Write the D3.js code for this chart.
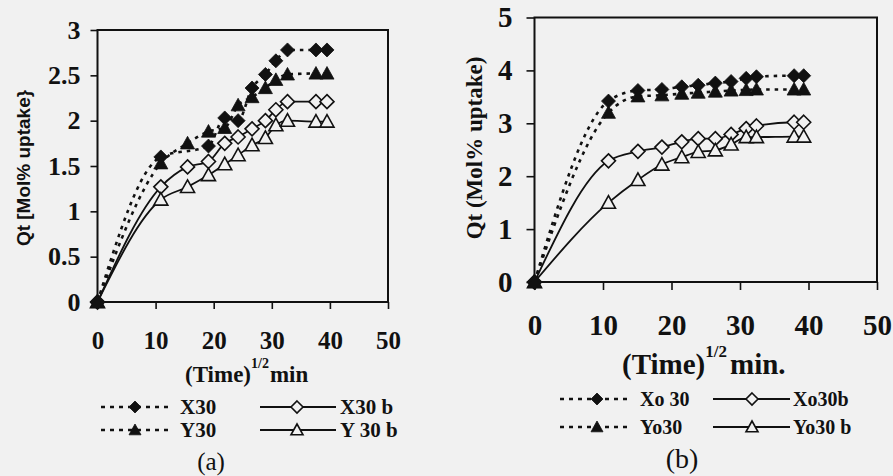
<!DOCTYPE html>
<html><head><meta charset="utf-8">
<script src="https://cdn.jsdelivr.net/npm/d3@7"></script>
<style>
html,body{margin:0;padding:0;background:#f1f1f1;}
svg{display:block;}
</style></head>
<body>
<svg id="c" width="893" height="476"></svg>
<script>
// ---------- Panel (a) data ----------
const timeA = [0, 10.9, 15.5, 19.1, 21.9, 24.2, 26.6, 28.9, 30.7, 32.7, 37.6, 39.5];
const X30   = [0, 1.60, null, 1.72, 2.03, 2.00, 2.36, 2.51, 2.66, 2.78, 2.78, 2.78];
const Y30   = [0, 1.53, 1.75, 1.88, 1.92, 2.17, 2.26, 2.36, 2.45, 2.51, 2.52, 2.52];
const X30b  = [0, 1.27, 1.49, 1.55, 1.75, 1.82, 1.91, 2.00, 2.12, 2.21, 2.21, 2.21];
const Y30b  = [0, 1.13, 1.27, 1.40, 1.52, 1.62, 1.73, 1.81, 1.95, 2.00, 1.99, 1.99];
const xTicksA = [0, 10, 20, 30, 40, 50];
const yTicksA = [0, 0.5, 1, 1.5, 2, 2.5, 3];
const yTickLabelsA = ["0", "0.5", "1", "1.5", "2", "2.5", "3"];

// ---------- Panel (b) data ----------
const timeB = [0, 10.8, 15.1, 18.6, 21.5, 23.9, 26.4, 28.7, 30.9, 32.4, 37.9, 39.3];
const Xo30  = [0, 3.42, 3.62, 3.64, 3.69, 3.72, 3.76, 3.79, 3.85, 3.88, 3.90, 3.90];
const Yo30  = [0, 3.20, 3.51, 3.53, 3.56, 3.58, 3.60, 3.62, 3.63, 3.64, 3.64, 3.64];
const Xo30b = [0, 2.29, 2.47, 2.55, 2.65, 2.71, 2.71, 2.79, 2.90, 2.95, 3.02, 3.02];
const Yo30b = [0, 1.50, 1.93, 2.22, 2.36, 2.46, 2.49, 2.60, 2.74, 2.74, 2.75, 2.75];
const xTicksB = [0, 10, 20, 30, 40, 50];
const yTicksB = [0, 1, 2, 3, 4, 5];

const svg = d3.select("#c");
const BG = "#f1f1f1";
const SERIF = "'Liberation Serif','Times New Roman',serif";
const SANS = "'Liberation Sans',Arial,sans-serif";

const diamondPath = r => `M0,${-r}L${r},0L0,${r}L${-r},0Z`;
const trianglePath = r => `M0,${-r}L${r},${r*0.8}L${-r},${r*0.8}Z`;

function zip(t, v) { return t.map((d, i) => ({t: d, v: v[i]})).filter(d => d.v !== null); }

function panel(cfg) {
  const g = svg.append("g");
  const x = d3.scaleLinear().domain([0, 50]).range(cfg.xr);
  const y = d3.scaleLinear().domain(cfg.yd).range(cfg.yr);

  const xa = g.append("g").attr("transform", `translate(0,${cfg.yr[0]})`)
    .call(d3.axisBottom(x).tickValues(cfg.xTicks).tickSize(cfg.tick).tickSizeOuter(0).tickPadding(cfg.xPad));
  const ya = g.append("g").attr("transform", `translate(${cfg.xr[0]},0)`)
    .call(d3.axisLeft(y).tickValues(cfg.yTicks).tickSize(cfg.tick).tickSizeOuter(0).tickPadding(cfg.yPad)
      .tickFormat((d, i) => cfg.yLabels ? cfg.yLabels[i] : d));
  [xa, ya].forEach(a => {
    a.attr("font-family", null).attr("font-size", null);
    a.select(".domain").remove();
    a.selectAll("line").attr("stroke", "#111").attr("stroke-width", 1.6);
    a.selectAll("text").attr("fill", "#111").style("font-family", SERIF).style("font-weight", "bold");
  });
  xa.selectAll("text").style("font-size", cfg.xFont + "px");
  ya.selectAll("text").style("font-size", cfg.yFont + "px");

  g.append("rect").attr("x", cfg.xr[0]).attr("y", cfg.yr[1])
    .attr("width", cfg.xr[1] - cfg.xr[0]).attr("height", cfg.yr[0] - cfg.yr[1])
    .attr("fill", "none").attr("stroke", "#111").attr("stroke-width", 2);

  const line = d3.line().x(d => x(d.t)).y(d => y(d.v)).curve(d3.curveMonotoneX);

  cfg.series.forEach(s => {
    const data = zip(s.t, s.v);
    g.append("path").datum(data).attr("d", line).attr("fill", "none")
      .attr("stroke", "#111").attr("stroke-width", s.dashed ? 2.6 : 1.8)
      .attr("stroke-dasharray", s.dashed ? "3.5,5" : null);
  });
  cfg.series.forEach(s => {
    const data = zip(s.t, s.v);
    g.selectAll(null).data(data).join("path")
      .attr("transform", d => `translate(${x(d.t)},${y(d.v)})`)
      .attr("d", s.shape === "d" ? diamondPath(cfg.ms) : trianglePath(cfg.ms))
      .attr("fill", s.open ? BG : "#111")
      .attr("stroke", "#111").attr("stroke-width", s.open ? 1.6 : 0.8);
  });

  g.append("text").attr("transform", `translate(${cfg.yTitle.x},${cfg.yTitle.y}) rotate(-90)`)
    .attr("text-anchor", "middle").attr("fill", "#111")
    .style("font-family", cfg.yTitle.font).style("font-weight", "bold").style("font-size", cfg.yTitle.size + "px")
    .text(cfg.yTitle.text);

  const xt = cfg.xTitle;
  const t = g.append("text").attr("x", xt.x).attr("y", xt.y).attr("fill", "#111")
    .style("font-family", SERIF).style("font-weight", "bold").style("font-size", xt.size + "px");
  t.append("tspan").text("(Time)");
  t.append("tspan").attr("dy", -xt.supUp).style("font-size", xt.supSize + "px").text("1/2");
  t.append("tspan").attr("dy", xt.supUp).attr("dx", xt.gap).text(xt.unit);

  cfg.legend.forEach(l => {
    const s = l.s;
    g.append("line").attr("x1", l.x1).attr("x2", l.x2).attr("y1", l.y).attr("y2", l.y)
      .attr("stroke", "#111").attr("stroke-width", s.dashed ? 2.6 : 1.8)
      .attr("stroke-dasharray", s.dashed ? "4,5" : null);
    g.append("path").attr("transform", `translate(${l.mx},${l.y})`)
      .attr("d", s.shape === "d" ? diamondPath(cfg.lms) : trianglePath(cfg.lms))
      .attr("fill", s.open ? BG : "#111").attr("stroke", "#111").attr("stroke-width", s.open ? 1.6 : 0.8);
    g.append("text").attr("x", l.tx).attr("y", l.y + cfg.legFont * 0.33).attr("fill", "#111")
      .style("font-family", SERIF).style("font-weight", "bold").style("font-size", cfg.legFont + "px")
      .text(s.name);
  });

  g.append("text").attr("x", cfg.tag.x).attr("y", cfg.tag.y).attr("text-anchor", "middle")
    .attr("fill", "#111").style("font-family", SERIF).style("font-size", cfg.tag.size + "px").text(cfg.tag.text);
}

const sA = {
  X30:  {name: "X30",    t: timeA, v: X30,  shape: "d", open: false, dashed: true},
  Y30:  {name: "Y30",    t: timeA, v: Y30,  shape: "t", open: false, dashed: true},
  X30b: {name: "X30 b",  t: timeA, v: X30b, shape: "d", open: true,  dashed: false},
  Y30b: {name: "Y 30 b", t: timeA, v: Y30b, shape: "t", open: true,  dashed: false}
};
panel({
  xr: [97.5, 388], yr: [302, 30], yd: [0, 3],
  xTicks: xTicksA, yTicks: yTicksA, yLabels: yTickLabelsA,
  tick: 7, xPad: 22, yPad: 10, xFont: 25, yFont: 26, ms: 7, lms: 6,
  series: [sA.X30b, sA.Y30b, sA.X30, sA.Y30],
  yTitle: {x: 30, y: 168, text: "Qt [Mol% uptake}", font: SANS, size: 19},
  xTitle: {x: 185, y: 382, size: 23, supSize: 14, supUp: 14, gap: 1, unit: "min"},
  legend: [
    {s: sA.X30,  x1: 101, x2: 170, mx: 135, y: 407, tx: 180},
    {s: sA.Y30,  x1: 101, x2: 170, mx: 135, y: 430, tx: 180},
    {s: sA.X30b, x1: 260, x2: 336, mx: 297, y: 407, tx: 340},
    {s: sA.Y30b, x1: 260, x2: 336, mx: 297, y: 430, tx: 340}
  ],
  legFont: 21,
  tag: {x: 211, y: 470, size: 25, text: "(a)"}
});

const sB = {
  Xo30:  {name: "Xo 30",  t: timeB, v: Xo30,  shape: "d", open: false, dashed: true},
  Yo30:  {name: "Yo30",   t: timeB, v: Yo30,  shape: "t", open: false, dashed: true},
  Xo30b: {name: "Xo30b",  t: timeB, v: Xo30b, shape: "d", open: true,  dashed: false},
  Yo30b: {name: "Yo30 b", t: timeB, v: Yo30b, shape: "t", open: true,  dashed: false}
};
panel({
  xr: [534.5, 877], yr: [282, 17.5], yd: [0, 5],
  xTicks: xTicksB, yTicks: yTicksB, yLabels: null,
  tick: 8, xPad: 24, yPad: 14, xFont: 29, yFont: 29, ms: 7, lms: 6,
  series: [sB.Xo30b, sB.Yo30b, sB.Xo30, sB.Yo30],
  yTitle: {x: 482, y: 148, text: "Qt (Mol% uptake)", font: SERIF, size: 23},
  xTitle: {x: 622, y: 374, size: 29, supSize: 17, supUp: 17, gap: 3, unit: "min."},
  legend: [
    {s: sB.Xo30,  x1: 560, x2: 632, mx: 597, y: 399, tx: 640},
    {s: sB.Yo30,  x1: 560, x2: 632, mx: 597, y: 427, tx: 640},
    {s: sB.Xo30b, x1: 713, x2: 790, mx: 752, y: 399, tx: 793},
    {s: sB.Yo30b, x1: 713, x2: 790, mx: 752, y: 427, tx: 793}
  ],
  legFont: 20,
  tag: {x: 682, y: 468, size: 28, text: "(b)"}
});
</script>
</body></html>
